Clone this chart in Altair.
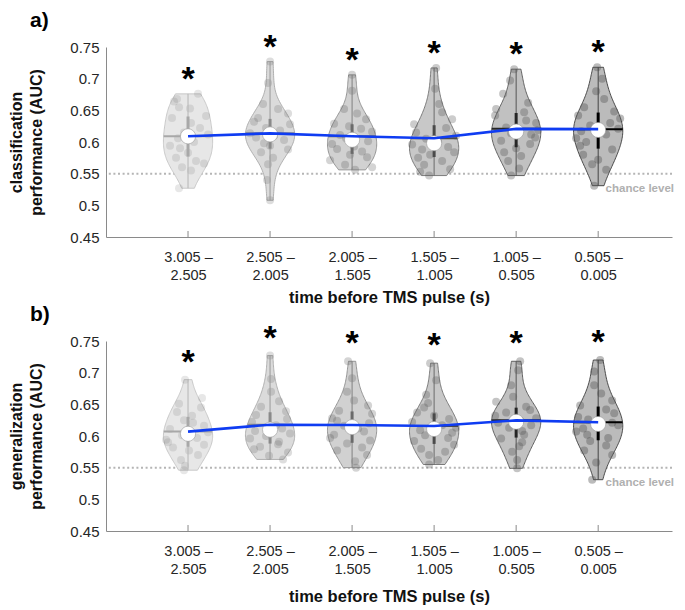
import json
import altair as alt
import pandas as pd

# ---------------- data ----------------
TOP = ["3.005 –", "2.505 –", "2.005 –", "1.505 –", "1.005 –", "0.505 –"]
BOTTOM = ["2.505", "2.005", "1.505", "1.005", "0.505", "0.005"]
CHANCE = 0.55

# panel a) classification performance (AUC)
A1 = [0.676, 0.668, 0.664, 0.655, 0.653, 0.641, 0.638, 0.630, 0.622, 0.615, 0.612, 0.606, 0.600, 0.594, 0.590, 0.583, 0.575, 0.570, 0.566, 0.560, 0.555, 0.527]
A2 = [0.727, 0.693, 0.660, 0.652, 0.645, 0.638, 0.632, 0.628, 0.622, 0.618, 0.614, 0.610, 0.607, 0.603, 0.598, 0.594, 0.588, 0.584, 0.575, 0.565, 0.540, 0.508]
A3 = [0.706, 0.681, 0.652, 0.645, 0.636, 0.629, 0.625, 0.621, 0.616, 0.611, 0.606, 0.601, 0.597, 0.593, 0.589, 0.585, 0.580, 0.576, 0.571, 0.564, 0.560, 0.556]
A4 = [0.717, 0.684, 0.660, 0.647, 0.636, 0.628, 0.622, 0.615, 0.610, 0.605, 0.600, 0.596, 0.592, 0.588, 0.584, 0.580, 0.575, 0.570, 0.564, 0.557, 0.553, 0.547]
A5 = [0.715, 0.697, 0.676, 0.662, 0.652, 0.647, 0.642, 0.634, 0.630, 0.623, 0.619, 0.614, 0.612, 0.607, 0.602, 0.597, 0.590, 0.584, 0.578, 0.570, 0.558, 0.547]
A6 = [0.718, 0.700, 0.680, 0.668, 0.655, 0.648, 0.642, 0.637, 0.630, 0.626, 0.621, 0.617, 0.612, 0.606, 0.600, 0.594, 0.588, 0.580, 0.572, 0.565, 0.556, 0.531]

# panel b) generalization performance (AUC)
B1 = [0.689, 0.660, 0.651, 0.645, 0.638, 0.632, 0.625, 0.621, 0.616, 0.611, 0.606, 0.601, 0.597, 0.594, 0.590, 0.586, 0.582, 0.577, 0.570, 0.562, 0.553, 0.546]
B2 = [0.727, 0.690, 0.670, 0.655, 0.646, 0.639, 0.633, 0.627, 0.622, 0.617, 0.612, 0.608, 0.604, 0.600, 0.596, 0.591, 0.587, 0.583, 0.579, 0.574, 0.569, 0.563]
B3 = [0.718, 0.691, 0.670, 0.656, 0.648, 0.640, 0.635, 0.628, 0.624, 0.620, 0.616, 0.612, 0.607, 0.602, 0.597, 0.593, 0.588, 0.582, 0.577, 0.570, 0.560, 0.550]
B4 = [0.715, 0.688, 0.665, 0.652, 0.645, 0.637, 0.632, 0.627, 0.622, 0.617, 0.613, 0.609, 0.605, 0.601, 0.597, 0.592, 0.586, 0.580, 0.575, 0.570, 0.562, 0.555]
B5 = [0.718, 0.704, 0.680, 0.662, 0.654, 0.646, 0.641, 0.637, 0.632, 0.628, 0.624, 0.621, 0.617, 0.613, 0.608, 0.602, 0.596, 0.590, 0.584, 0.575, 0.562, 0.549]
B6 = [0.720, 0.702, 0.680, 0.667, 0.656, 0.648, 0.642, 0.636, 0.630, 0.626, 0.621, 0.617, 0.612, 0.607, 0.602, 0.597, 0.592, 0.585, 0.577, 0.570, 0.558, 0.531]

# horizontal scatter of the dots (px from violin centre)
JA1 = [10, -11, -14, -9, 2, 18, -16, 3, 12, -4, 20, -10, 6, -18, -8, 0, -12, 8, 16, -6, 3, -9]
JA2 = [0, -2, -7, 8, 18, -12, -16, 20, -4, 10, -20, 4, -14, 14, -6, 0, 18, -9, 3, -2, -3, 0]
JA3 = [0, 0, -8, 5, 14, -18, -3, 9, 20, -12, -6, 16, -20, 2, -15, 10, -2, 15, -22, -7, 20, 3]
JA4 = [2, 1, 5, 8, 18, -20, 12, -18, 22, -8, 4, -22, 14, -12, 20, -4, -16, 8, -10, 16, -14, -5]
JA5 = [-2, -6, -13, 12, -20, 8, -21, 10, 20, -10, 22, -5, 15, 19, -15, 14, 0, -12, 5, -8, 3, -5]
JA6 = [-1, 4, -2, 6, -14, 16, -20, 22, 12, -8, 20, -17, 8, -22, -12, -18, 14, -15, 0, -6, 8, -4]
JB1 = [-3, 14, -9, 13, -11, 4, -4, 5, 16, -18, 20, -6, 9, -22, -20, 16, -15, 1, 10, -7, -3, -4]
JB2 = [0, 1, 1, 9, -9, 16, -14, 17, -18, 6, 12, -15, 20, -4, -20, 9, 8, -10, -16, 18, -1, 13]
JB3 = [-4, 0, -5, 2, 16, -13, 20, -20, -15, 17, -8, 6, 12, -18, -22, 18, -5, 10, -15, 15, 3, 4]
JB4 = [-4, 2, -8, -6, -10, -17, 0, 15, -22, 8, 22, -14, 18, -9, 14, -20, 20, -13, 11, -5, 4, -5]
JB5 = [4, 2, -5, -3, -20, 10, 14, -10, -21, 20, 4, -18, 15, -7, 6, 8, -15, 6, 3, -4, 1, 1]
JB6 = [2, -4, -4, 3, 14, -18, 8, 16, -20, -10, 14, 20, -15, -22, -11, 10, -8, 8, -14, 14, -2, -6]

# ---------------- styles ----------------
FILL = ["#e7e7e7", "#dbdbdb", "#d1d1d1", "#c8c8c8", "#c1c1c1", "#bbbbbb"]
EDGE = ["#c4c4c4", "#a9a9a9", "#8c8c8c", "#6f6f6f", "#545454", "#3a3a3a"]
LINE = ["#a8a8a8", "#8a8a8a", "#6a6a6a", "#4a4a4a", "#262626", "#000000"]
THIN = ["#b5b5b5", "#9a9a9a", "#808080", "#6a6a6a", "#555555", "#444444"]
PT_OP = [0.14, 0.2, 0.25, 0.3, 0.35, 0.4]
FONT = "Liberation Sans"
W, H = 566, 190
PX_PER_UNIT = 82.0
HALF = 0.30

rows = []
for pname, vals, jits in [("a", [A1, A2, A3, A4, A5, A6], [JA1, JA2, JA3, JA4, JA5, JA6]),
                          ("b", [B1, B2, B3, B4, B5, B6], [JB1, JB2, JB3, JB4, JB5, JB6])]:
    for g, (vv, jj) in enumerate(zip(vals, jits), start=1):
        assert len(vv) == len(jj)
        for v, j in zip(vv, jj):
            rows.append({"panel": pname, "group": g, "value": v, "jx": g + j / PX_PER_UNIT})
df = pd.DataFrame(rows)

xscale = alt.Scale(domain=[0, 6.9], nice=False, zero=False)
yscale = alt.Scale(domain=[0.45, 0.75], nice=False, zero=False)

top_js = json.dumps(TOP, ensure_ascii=False)
bot_js = json.dumps(BOTTOM, ensure_ascii=False)


def xaxis(tpad):
    return alt.Axis(values=[1, 2, 3, 4, 5, 6],
                    labelExpr=f"[{top_js}[datum.value - 1], {bot_js}[datum.value - 1]]",
                    tickSize=0, labelPadding=13, labelFontSize=14.5, labelColor="#262626", labelLineHeight=18,
                    domainColor="#8a8a8a", domainWidth=1, grid=False, titleFontSize=16.5,
                    titleFontWeight="bold", titleColor="#111111", titlePadding=tpad, labelFont=FONT,
                    titleFont=FONT)


def yaxis():
    return alt.Axis(values=[0.45, 0.5, 0.55, 0.6, 0.65, 0.7, 0.75], format=".2~f", tickSize=0, labelPadding=7,
                    labelFontSize=15, labelColor="#262626", domainColor="#8a8a8a", domainWidth=1, grid=False,
                    titleFontSize=16, titleFontWeight="bold", titleColor="#111111", titlePadding=25,
                    titleLineHeight=20, labelFont=FONT, titleFont=FONT)


XT = "time before TMS pulse (s)"


def panel(pname, ytitle, tag, star_dy, tpad):
    xax = xaxis(tpad)

    def xe(f):
        return alt.X(f, type="quantitative", scale=xscale, axis=xax, title=XT)

    def ye(f):
        return alt.Y(f, type="quantitative", scale=yscale, axis=yaxis(), title=ytitle)

    d = df[df.panel == pname]
    layers = []
    chance = pd.DataFrame({"chance": [CHANCE], "tag": [tag]})
    layers.append(alt.Chart(chance).mark_rule(color="#b5b5b5", strokeDash=[2, 2.6], strokeWidth=2)
                  .encode(y=ye("chance")))
    # violins: kernel density computed by Vega-Lite, clipped at each group's min / max
    for g in range(1, 7):
        dg = d[d.group == g]
        lo, hi = float(dg.value.min()), float(dg.value.max())
        base = (alt.Chart(dg)
                .transform_density("value", as_=["value", "density"], extent=[lo, hi], steps=80)
                .transform_joinaggregate(maxd="max(density)")
                .transform_calculate(left=f"{g} - {HALF} * datum.density / datum.maxd",
                                     right=f"{g} + {HALF} * datum.density / datum.maxd"))
        layers.append(base.mark_area(orient="horizontal", fill=FILL[g - 1], stroke=EDGE[g - 1],
                                     strokeWidth=0.9, opacity=1)
                      .encode(y=ye("value"), x=xe("left"), x2=alt.X2("right")))
    # dots
    dots = d.assign(op=d.group.map(lambda g: PT_OP[g - 1]))
    layers.append(alt.Chart(dots).mark_circle(size=64, color="#555555")
                  .encode(x=xe("jx"), y=ye("value"), opacity=alt.Opacity("op:Q", scale=None)))
    agg = (alt.Chart(d).transform_aggregate(vmin="min(value)", vmax="max(value)", q1="q1(value)",
                                            q3="q3(value)", med="median(value)", mean="mean(value)",
                                            groupby=["group"])
           .transform_calculate(thin=f"{json.dumps(THIN)}[datum.group - 1]",
                                line=f"{json.dumps(LINE)}[datum.group - 1]"))
    layers.append(agg.mark_rule(strokeWidth=1)
                  .encode(x=xe("group"), y=ye("vmin"), y2=alt.Y2("vmax"),
                          color=alt.Color("thin:N", scale=None)))
    layers.append(agg.mark_rule(strokeWidth=3)
                  .encode(x=xe("group"), y=ye("q1"), y2=alt.Y2("q3"),
                          color=alt.Color("line:N", scale=None)))
    # mean line drawn across the violin width at the mean
    for g in range(1, 7):
        dg = d[d.group == g]
        lo, hi = float(dg.value.min()), float(dg.value.max())
        mline = (alt.Chart(dg)
                 .transform_joinaggregate(mean="mean(value)")
                 .transform_density("value", as_=["value", "density"], extent=[lo, hi], steps=200,
                                    groupby=["mean"])
                 .transform_joinaggregate(maxd="max(density)")
                 .transform_calculate(left=f"{g} - {HALF} * datum.density / datum.maxd",
                                      right=f"{g} + {HALF} * datum.density / datum.maxd",
                                      diff="abs(datum.value - datum.mean)")
                 .transform_joinaggregate(mindiff="min(diff)")
                 .transform_filter("datum.diff == datum.mindiff"))
        layers.append(mline.mark_rule(strokeWidth=2, color=LINE[g - 1])
                      .encode(y=ye("mean"), x=xe("left"), x2=alt.X2("right")))
    layers.append(agg.mark_circle(size=230, color="white", stroke="#9a9a9a", strokeWidth=0.6, opacity=1)
                  .encode(x=xe("group"), y=ye("med")))
    layers.append(agg.mark_line(color="#0f3cf2", strokeWidth=2.6)
                  .encode(x=xe("group"), y=ye("mean")))
    layers.append(agg.mark_text(text="*", fontSize=34, fontWeight="bold", baseline="alphabetic",
                                dy=star_dy, color="#000000", font=FONT)
                  .encode(x=xe("group"), y=ye("vmax")))
    # inward x ticks
    layers.append(agg.mark_rule(color="#8a8a8a", strokeWidth=1)
                  .encode(x=xe("group"), y=alt.value(H - 6), y2=alt.value(H)))
    layers.append(alt.Chart(chance).mark_text(text="chance level", align="right", baseline="middle",
                                              dy=15, fontSize=11.5, fontWeight="bold", color="#b0b0b0",
                                              font=FONT)
                  .encode(y=ye("chance"), x=alt.value(568)))
    # panel tag "a)" / "b)"
    layers.append(alt.Chart(chance).mark_text(align="left", baseline="alphabetic", fontSize=21,
                                              fontWeight="bold", color="#000000", font=FONT)
                  .encode(text="tag:N", x=alt.value(-76), y=alt.value(-20)))
    return alt.layer(*layers).properties(width=W, height=H)


pa = panel("a", ["classification", "performance (AUC)"], "a)", -4, 8)
pb = panel("b", ["generalization", "performance (AUC)"], "b)", -7, 13)

chart = (alt.vconcat(pa, pb, spacing=-2)
         .properties(padding={"left": 0, "top": 2, "right": 0, "bottom": 0})
         .configure(font=FONT)
         .configure_view(stroke=None))

chart.save("out.html", embed_options={"renderer": "svg", "actions": False})
